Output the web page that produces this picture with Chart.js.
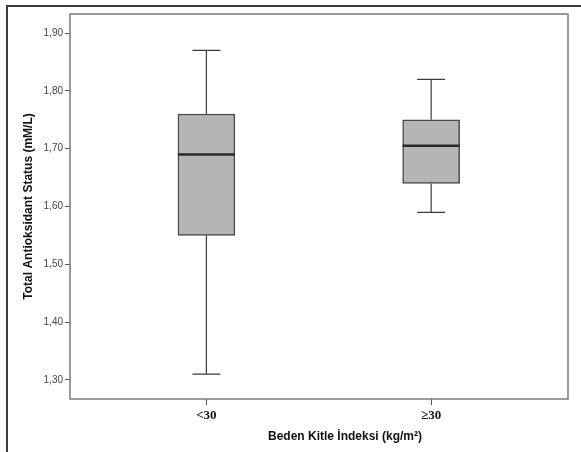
<!DOCTYPE html>
<html>
<head>
<meta charset="utf-8">
<script src="https://cdn.jsdelivr.net/npm/chart.js@4"></script>
<style>
  body { margin: 0; background: #fff; }
  canvas { display: block; }
</style>
</head>
<body>
<canvas id="chart" width="581" height="452" style="width:581px;height:452px"></canvas>
<script>
const groups = ["<30", "\u226530"];
const groupX = [1, 2];
const mins = [1.31, 1.59];
const q1s = [1.55, 1.64];
const medians = [1.69, 1.705];
const q3s = [1.76, 1.75];
const maxs = [1.87, 1.82];
const yTicks = [1.3, 1.4, 1.5, 1.6, 1.7, 1.8, 1.9];

const boxHalf = 0.127;
const capHalf = 0.062;

// whiskers + caps as broken line segments
const whiskerData = [];
const medianData = [];
groupX.forEach((x, i) => {
  whiskerData.push(
    { x: x, y: mins[i] }, { x: x, y: q1s[i] }, { x: x, y: null },
    { x: x, y: q3s[i] }, { x: x, y: maxs[i] }, { x: x, y: null },
    { x: x - capHalf, y: maxs[i] }, { x: x + capHalf, y: maxs[i] }, { x: x, y: null },
    { x: x - capHalf, y: mins[i] }, { x: x + capHalf, y: mins[i] }, { x: x, y: null }
  );
  medianData.push(
    { x: x - boxHalf, y: medians[i] }, { x: x + boxHalf, y: medians[i] }, { x: x, y: null }
  );
});

const frame = {
  id: "frame",
  afterDraw(chart) {
    const { ctx, chartArea: a } = chart;
    ctx.save();
    // plot border
    ctx.strokeStyle = "#7a7a7a";
    ctx.lineWidth = 1.5;
    ctx.strokeRect(a.left, a.top, a.right - a.left, a.bottom - a.top);
    // outer frame
    ctx.strokeStyle = "#3a3a3a";
    ctx.lineWidth = 2;
    ctx.beginPath();
    ctx.moveTo(7, 452);
    ctx.lineTo(7, 6);
    ctx.lineTo(581, 6);
    ctx.stroke();
    // x axis title
    ctx.fillStyle = "#111";
    ctx.font = "bold 12px 'Liberation Sans', Arial, sans-serif";
    ctx.textAlign = "center";
    ctx.textBaseline = "middle";
    ctx.fillText("Beden Kitle \u0130ndeksi (kg/m\u00b2)", 345, 437);
    ctx.restore();
  }
};

new Chart(document.getElementById("chart"), {
  type: "bar",
  data: {
    datasets: [
      {
        type: "line",
        data: whiskerData,
        borderColor: "#3c3c3c",
        borderWidth: 1.2,
        pointRadius: 0,
        spanGaps: false,
        order: 1
      },
      {
        type: "line",
        data: medianData,
        borderColor: "#2a2a2a",
        borderWidth: 2.5,
        pointRadius: 0,
        spanGaps: false,
        order: 0
      },
      {
        type: "bar",
        data: groupX.map((x, i) => ({ x: x, y: [q1s[i], q3s[i]] })),
        backgroundColor: "#b5b5b5",
        borderColor: "#4a4a4a",
        borderWidth: 1.5,
        borderSkipped: false,
        barThickness: 57,
        order: 2
      }
    ]
  },
  options: {
    responsive: false,
    animation: false,
    layout: { padding: { top: 14, right: 13, left: 0, bottom: 0 } },
    plugins: { legend: { display: false }, tooltip: { enabled: false } },
    scales: {
      x: {
        type: "linear",
        offset: false,
        min: 0.393,
        max: 2.609,
        afterFit: s => { s.height = 53; },
        afterBuildTicks: s => { s.ticks = groupX.map(v => ({ value: v })); },
        grid: { offset: false, drawOnChartArea: false, drawTicks: true, tickLength: 6, color: "#555" },
        border: { display: false },
        ticks: {
          padding: 3,
          color: "#111",
          font: { family: "'Liberation Serif', 'Times New Roman', serif", size: 13, weight: "bold" },
          callback: v => groups[groupX.indexOf(v)]
        }
      },
      y: {
        min: 1.267,
        max: 1.933,
        afterFit: s => { s.width = 70; },
        afterBuildTicks: s => { s.ticks = yTicks.map(v => ({ value: v })); },
        grid: { drawOnChartArea: false, drawTicks: true, tickLength: 5, color: "#555" },
        border: { display: false },
        ticks: {
          padding: 2,
          color: "#444",
          font: { family: "'Liberation Sans', Arial, sans-serif", size: 10 },
          callback: v => v.toFixed(2).replace(".", ",")
        },
        title: {
          display: true,
          text: "Total Antioksidant Status (mM/L)",
          color: "#111",
          padding: { top: 21, bottom: 0 },
          font: { family: "'Liberation Sans', Arial, sans-serif", size: 12, weight: "bold" }
        }
      }
    }
  },
  plugins: [frame]
});
</script>
</body>
</html>
